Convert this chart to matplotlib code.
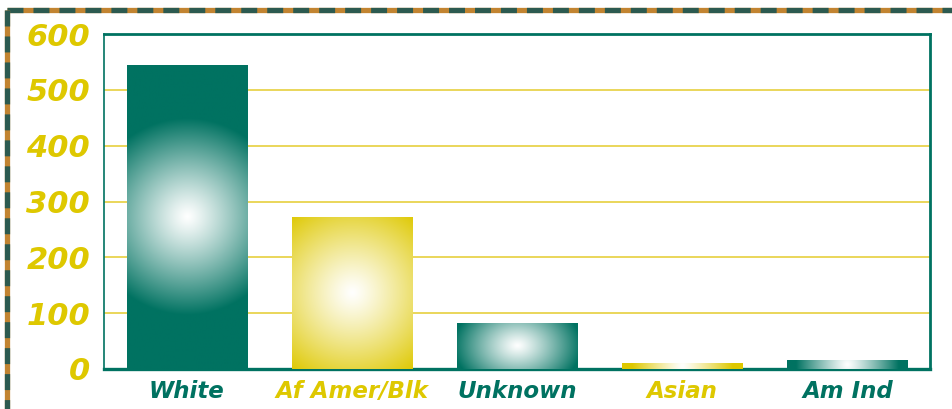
import numpy as np
import matplotlib
matplotlib.use("Agg")
import matplotlib.pyplot as plt
from matplotlib.lines import Line2D
from matplotlib.colors import to_rgb

# Data
categories = ["White", "Af Amer/Blk", "Unknown", "Asian", "Am Ind"]
values = [545, 273, 83, 11, 16]
yticks = [0, 100, 200, 300, 400, 500, 600]

TEAL = "#007261"
GOLD = "#dec800"
GRID = "#ead65a"
BORDER_DARK = "#2c5a50"
BORDER_ORANGE = "#c28431"

bar_colors = [TEAL, GOLD, TEAL, GOLD, TEAL]

W, H, DPI = 952, 409, 100
fig = plt.figure(figsize=(W / DPI, H / DPI), dpi=DPI)
fig.patch.set_facecolor("white")

ax_l, ax_r, ax_b, ax_t = 104 / W, 930 / W, 40 / H, 375 / H
ax = fig.add_axes([ax_l, ax_b, ax_r - ax_l, ax_t - ax_b])

x = np.arange(len(categories))
bar_w = 0.727
bars = ax.bar(x, values, width=bar_w, color=bar_colors, zorder=2)

ax.set_xlim(-0.5, len(categories) - 0.5)
ax.set_ylim(0, 600)

# pixel scale of data units, used to shape the radial shading
px_per_x = (ax_r - ax_l) * W / (len(categories))
px_per_y = (ax_t - ax_b) * H / 600.0

for rect, col in zip(bars, bar_colors):
    x0, y0 = rect.get_x(), rect.get_y()
    w, h = rect.get_width(), rect.get_height()
    wpx, hpx = w * px_per_x, h * px_per_y
    nx, ny = max(int(wpx), 2), max(int(hpx), 2)
    gx = (np.arange(nx) + 0.5) - nx / 2
    gy = (np.arange(ny) + 0.5) - ny / 2
    X, Y = np.meshgrid(gx, gy)
    rx = 48 + 50 * min(1.0, hpx / 150.0)
    ry = min(98.0, max(0.9 * hpx, 45.0))
    t = np.clip(np.sqrt((X / rx) ** 2 + (Y / ry) ** 2), 0, 1)
    s = t ** 1.15
    base = np.array(to_rgb(col))
    img = (1 - s)[..., None] * np.ones(3) + s[..., None] * base
    im = ax.imshow(img, extent=(x0, x0 + w, y0, y0 + h), origin="lower",
                   aspect="auto", interpolation="bilinear", zorder=3)
    im.set_clip_path(rect)

ax.set_xlim(-0.5, len(categories) - 0.5)
ax.set_ylim(0, 600)

ax.set_yticks(yticks)
ax.yaxis.grid(True, color=GRID, linewidth=1.4, zorder=0)
ax.set_axisbelow(True)
ax.tick_params(axis="both", length=0)
ax.tick_params(axis="y", pad=10)
ax.tick_params(axis="x", pad=8)

ax.set_yticklabels([str(v) for v in yticks], fontsize=22, fontweight="bold",
                   fontstyle="italic", color=GOLD, family="DejaVu Sans")
ax.set_xticks(x)
ax.set_xticklabels(categories, fontsize=16.5, fontweight="bold",
                   fontstyle="italic", family="DejaVu Sans")
for lbl, col in zip(ax.get_xticklabels(), bar_colors):
    lbl.set_color(col)

for side, lw in [("top", 2.0), ("right", 2.0), ("left", 1.2), ("bottom", 2.4)]:
    ax.spines[side].set_color(TEAL)
    ax.spines[side].set_linewidth(lw)

# dashed page border along the top and left edges
bw = 3.8
ty = 1 - 9.5 / H
lx = 6.5 / W
for xs, ys in [([lx, 1.0], [ty, ty]), ([lx, lx], [ty, 0.0])]:
    fig.add_artist(Line2D(xs, ys, transform=fig.transFigure, color=BORDER_ORANGE,
                          linewidth=bw, solid_capstyle="butt"))
    dl = Line2D(xs, ys, transform=fig.transFigure, color=BORDER_DARK,
                linewidth=bw, dash_capstyle="butt")
    dl.set_dashes((11.5 / bw, 7.2 / bw))
    fig.add_artist(dl)

fig.savefig("out.png", dpi=DPI, facecolor="white")
